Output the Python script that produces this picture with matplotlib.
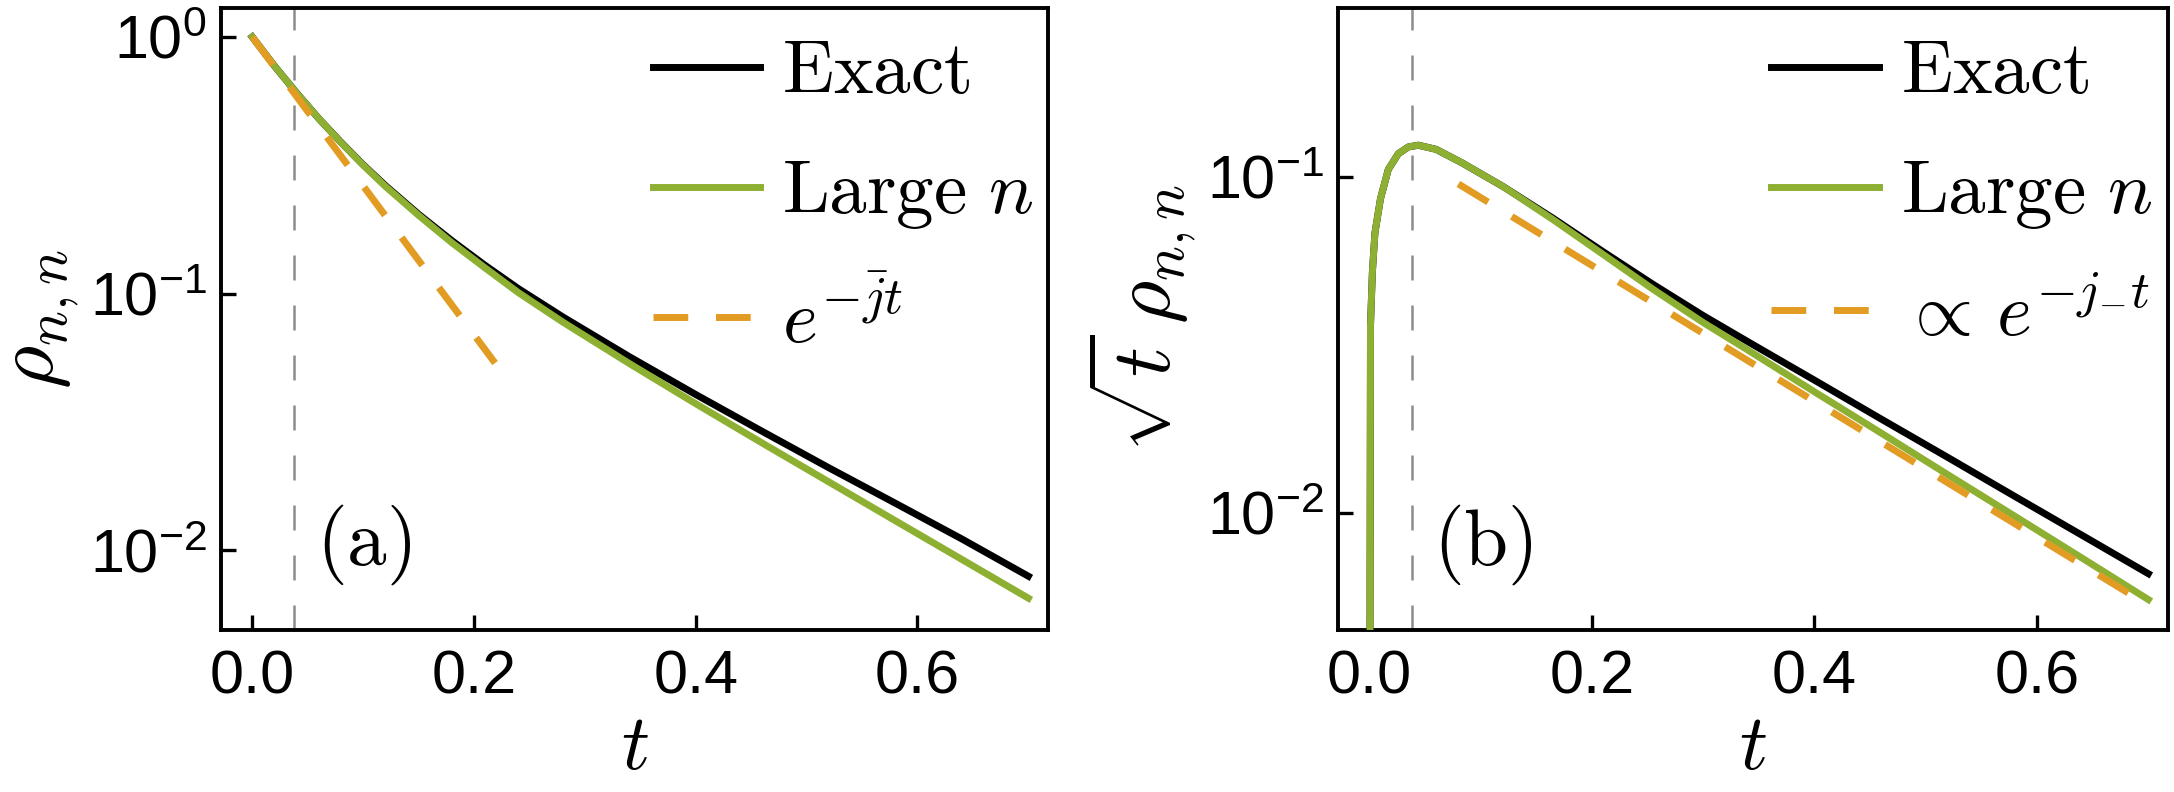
import numpy as np
import matplotlib
matplotlib.use('Agg')
import matplotlib.pyplot as plt
from matplotlib.ticker import NullLocator

plt.rcParams['font.family'] = 'Liberation Sans'
plt.rcParams['mathtext.fontset'] = 'cm'

# ---------------------------------------------------------
# panel (a): rho_{n,n}(t)
# ---------------------------------------------------------
t_a = [0.0, 0.02, 0.04, 0.06, 0.08, 0.10, 0.12, 0.15, 0.18, 0.21,
       0.24, 0.28, 0.34, 0.40, 0.46, 0.52, 0.58, 0.64, 0.70]
exact_a = [1.0, 0.771, 0.605, 0.481, 0.389, 0.318, 0.264, 0.204, 0.161, 0.129,
           0.1047, 0.0813, 0.0569, 0.0405, 0.0291, 0.0210, 0.01528, 0.01109, 0.00794]
large_a = [1.0, 0.771, 0.605, 0.481, 0.388, 0.317, 0.262, 0.202, 0.158, 0.126,
           0.101, 0.0776, 0.0535, 0.0373, 0.0262, 0.0185, 0.01306, 0.00923, 0.00652]
# e^{-jbar t}, straight on the log axis
t_fit_a = [0.0, 0.219]
fit_a = [1.0, 0.0537]

# ---------------------------------------------------------
# panel (b): sqrt(t) rho_{n,n}(t)
# ---------------------------------------------------------
t_b = [0.0004, 0.001, 0.0027, 0.005, 0.01, 0.017, 0.026, 0.035, 0.044, 0.06,
       0.083, 0.12, 0.165, 0.21, 0.255, 0.30, 0.34, 0.40, 0.46, 0.52,
       0.58, 0.64, 0.70]
exact_b = [0.002, 0.036, 0.052, 0.068, 0.086, 0.105, 0.117, 0.1225, 0.124, 0.1205,
           0.110, 0.0935, 0.0752, 0.0598, 0.0478, 0.0386, 0.0323, 0.0248, 0.0190, 0.0146,
           0.01119, 0.00859, 0.00659]
large_b = [0.002, 0.036, 0.052, 0.068, 0.086, 0.105, 0.117, 0.1225, 0.124, 0.1205,
           0.110, 0.0935, 0.0745, 0.0587, 0.0462, 0.0368, 0.0305, 0.0229, 0.01726, 0.01297,
           0.00977, 0.00735, 0.00552]
t_fit_b = [0.08, 0.70]
fit_b = [0.0951, 0.00531]

t_mark = 0.0379   # gray dashed guide line

c_exact = 'black'
c_large = '#8db033'
c_fit = '#e29c23'
c_guide = '#8c8c8c'

fig = plt.figure(figsize=(21.74, 7.92), dpi=100)
ax_a = fig.add_axes([0.1015, 0.2045, 0.3807, 0.7858])
ax_b = fig.add_axes([0.6153, 0.2045, 0.3821, 0.7858])

panels = [
    (ax_a, t_a, exact_a, large_a, t_fit_a, fit_a, r'$e^{-\bar{j}t}$',
     r'$\rho_{n,n}$', (0.0049, 1.3), r'$\mathrm{(a)}$'),
    (ax_b, t_b, exact_b, large_b, t_fit_b, fit_b, r'$\propto\, e^{-j_{-}t}$',
     r'$\sqrt{t}\,\rho_{n,n}$', (0.00448, 0.318), r'$\mathrm{(b)}$'),
]

for ax, t, ex, lg, tf, ff, fit_lab, ylab, ylim, tag in panels:
    ax.axvline(t_mark, color=c_guide, lw=1.8, dashes=(10, 10), zorder=1)
    ax.plot(t, ex, color=c_exact, lw=5, label=r'$\mathrm{Exact}$', zorder=2)
    ax.plot(t, lg, color=c_large, lw=5, label=r'$\mathrm{Large}\ n$', zorder=3)
    ax.plot(tf, ff, color=c_fit, lw=5, dashes=(5, 4), label=fit_lab, zorder=4)

    ax.set_yscale('log')
    ax.set_xlim(-0.0285, 0.718)
    ax.set_ylim(*ylim)
    ax.yaxis.set_minor_locator(NullLocator())
    ax.set_xticks([0.0, 0.2, 0.4, 0.6])

    for s in ax.spines.values():
        s.set_linewidth(2.8)
    ax.tick_params(direction='in', length=11, width=2.4, labelsize=44,
                   top=False, right=False)
    ax.tick_params(axis='x', pad=14)
    ax.tick_params(axis='y', pad=10)

    ax.set_xlabel(r'$t$', fontsize=56, labelpad=4)
    ax.set_ylabel(ylab, fontsize=60, labelpad=6)

    ax.text(0.115, 0.137, tag, transform=ax.transAxes, fontsize=57,
            ha='left', va='center')

    ax.legend(loc='upper left', bbox_to_anchor=(0.522, 0.95), frameon=False,
              fontsize=54, handlelength=1.43, handletextpad=0.3,
              labelspacing=0.68, borderpad=0, borderaxespad=0)

fig.savefig('out.png', dpi=100)
